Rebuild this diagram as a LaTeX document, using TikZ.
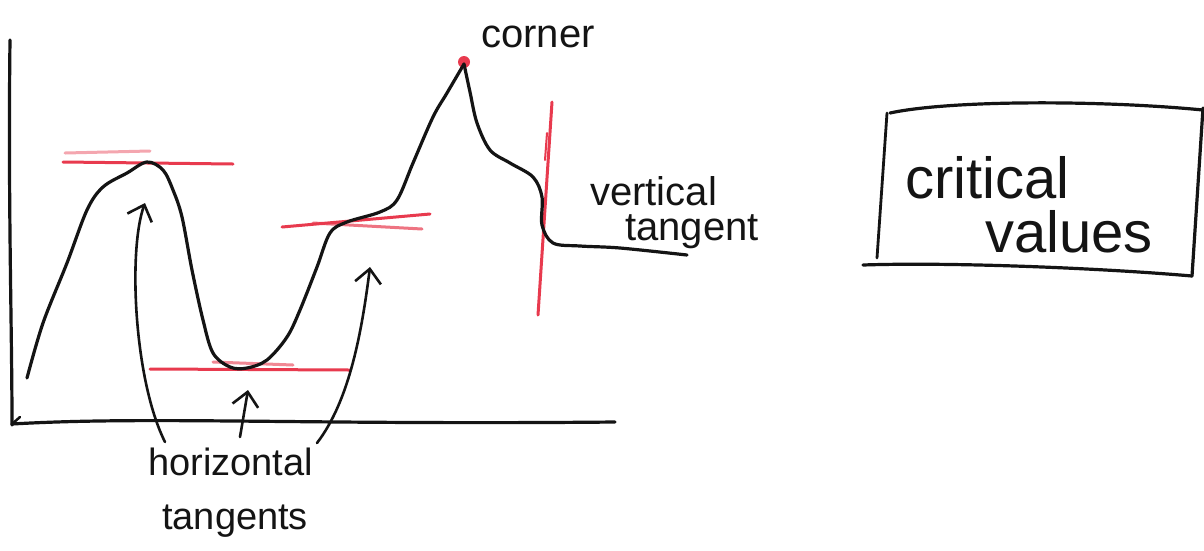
\documentclass[tikz,border=0pt]{standalone}
\usepackage{fontspec}
\setmainfont{Liberation Sans}
\usetikzlibrary{arrows.meta}
\definecolor{redpen}{RGB}{232,58,78}
\definecolor{ink}{RGB}{20,20,20}
\begin{document}
\begin{tikzpicture}[x=1pt,y=-1pt,
  pen/.style={draw=ink,line width=3.2pt,line cap=round,line join=round},
  redline/.style={draw=redpen,line width=3pt,line cap=round},
  pointer/.style={pen,line width=2.6pt,-{Straight Barb[length=14pt,width=26pt]}},
  label/.style={inner sep=0pt,text=ink,align=left,anchor=north west}]
\useasboundingbox[fill=white] (0,0) rectangle (1204,550);

% red tangent marks
\fill[redpen] (464,62) circle (6pt);
\draw[redline,opacity=.45] (65,153) -- (150,151);
\draw[redline] (63,162) -- (233,164);
\draw[redline] (282,227) -- (430,214);
\draw[redline,opacity=.7] (313,223) -- (422,229);
\draw[redline] (150,369) -- (350,370);
\draw[redline,opacity=.6] (213,362) -- (293,365);
\draw[redline] (552,102) -- (538,315);
\draw[redline,line width=2pt] (547,133) -- (545,160);

% axes
\draw[pen] (10,40) .. controls (8,200) and (12,330) .. (12,425);
\draw[pen] (12,424) .. controls (150,416) and (300,425) .. (615,422);
\draw[pen,line width=2.5pt] (12,424) -- (20,417);

% function graph
\draw[pen] plot[smooth,tension=0.55] coordinates {(27,378) (43,323) (67,263) (87,210) (103,187) (127,173) (147,162) (163,170) (173,190) (182,217) (192,270) (203,320) (213,353) (230,367) (247,368) (267,360) (287,337) (300,310) (317,267) (330,233) (347,222) (380,212) (397,200) (413,163) (433,117) (447,93) (464,64)};
\draw[pen] plot[smooth,tension=0.55] coordinates {(464,64) (470,92) (477,123) (490,150) (510,163) (533,177) (542,197) (542,225) (553,243) (580,246) (620,248) (687,255)};

% labels
\node[label,anchor=base,font={\fontsize{40}{40}\selectfont}] (corner) at (538,47) {corner};
\node[label,font={\fontsize{40}{35}\selectfont}] (vt) at (590,176) {vertical\\\hspace*{35pt}tangent};
\node[label,font={\fontsize{58}{54}\selectfont}] (cv) at (905,156) {critical\\\hspace*{80pt}values};
\node[label,font={\fontsize{38}{54}\selectfont}] (ht) at (148,448) {horizontal\\\hspace*{14pt}tangents};

% box round "critical values"
\draw[pen,line width=2.8pt] (887,113) -- (877,258);
\draw[pen] (890,113) .. controls (950,100) and (1100,100) .. (1203,110);
\draw[pen] (1203,108) -- (1192,276);
\draw[pen] (863,265) .. controls (950,262) and (1100,268) .. (1192,276);

% arrows from the label to the horizontal tangents
\coordinate (s1) at (165,442);
\coordinate (t1) at (145,203);
\coordinate (s2) at (240,437);
\coordinate (t2) at (248,390);
\coordinate (s3) at (317,443);
\coordinate (t3) at (370,267);
\draw[pointer] (s1) .. controls (134,380) and (128,250) .. (t1);
\draw[pointer] (s2) -- (t2);
\draw[pointer] (s3) .. controls (350,400) and (362,330) .. (t3);
\end{tikzpicture}
\end{document}
